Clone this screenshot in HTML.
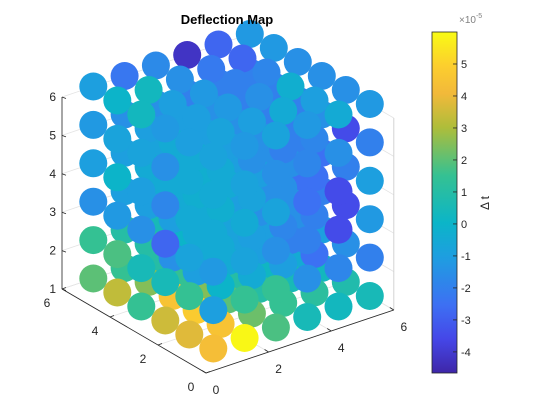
<!DOCTYPE html>
<html><head><meta charset="utf-8"><style>
html,body{margin:0;padding:0;background:#fff;width:560px;height:420px;overflow:hidden}
svg text{font-family:"Liberation Sans",sans-serif}
</style></head><body>
<svg id="chart" width="560" height="420" viewBox="0 0 560 420" xmlns="http://www.w3.org/2000/svg">
<rect width="560" height="420" fill="#fff"/>
<g id="grid"></g>
<g id="points"></g>
<g id="axes"></g>
<text x="227" y="24" font-size="13" font-weight="bold" text-anchor="middle" fill="#000">Deflection Map</text>
<defs><linearGradient id="parula" x1="0" y1="1" x2="0" y2="0">
<stop offset="0" stop-color="#3e26a8"/><stop offset="0.1" stop-color="#4547e8"/><stop offset="0.2" stop-color="#3d70f3"/><stop offset="0.34" stop-color="#1e9ee0"/><stop offset="0.44" stop-color="#0bb5c8"/><stop offset="0.58" stop-color="#35c192"/><stop offset="0.72" stop-color="#aebd3a"/><stop offset="0.82" stop-color="#f2b93a"/><stop offset="0.9" stop-color="#fcce2e"/><stop offset="1" stop-color="#f9fb14"/>
</linearGradient></defs>
<g id="colorbar"></g>
</svg>
<script>
const zLayers = [
 [[4.3,5.9,1.8,0.5,0.3,0.5],[3.8,4.5,2.2,1.5,1.2,0.8],[3.5,4.8,2.0,1.0,0.5,0.3],[1.5,4.5,2.5,1.0,0.2,-0.5],[3.3,2.5,1.5,0.5,-0.5,-1],[2.0,1.5,1.0,0,-1,-1.5]],
 [[-1,1.5,1.5,-1.5,-1.8,-2],[1.5,0,-0.5,-1,-2.5,-1.5],[0.5,-1,-0.5,-1,-2,-1],[0.5,-1.5,-0.5,-0.8,-1,-1.5],[1.8,1.0,0,-1,-1.5,-2],[1.5,1.0,0.5,-0.5,-1.5,-1.5]],
 [[-1.2,-0.8,-1.5,-2,-3.5,-1.2],[-0.8,-0.5,-1,-1.8,-2,-3.5],[-2.8,-0.5,-0.8,-1.5,-1.5,-2],[-1.5,-1,-0.5,-1,-1.5,-2.5],[-1.2,-1,-0.5,-1,-2,-2],[-1.5,-1,-0.5,-1,-1.5,-2]],
 [[-0.5,-0.5,-0.8,-2.5,-3.5,-1],[-0.5,-0.3,-0.8,-1.5,-2.5,-2],[-1.8,-0.3,-0.5,-1,-1.5,-2.5],[-1,-0.5,-0.3,-1,-1.5,-2],[0,-0.5,-0.5,-1,-1.5,-2],[-1,-1,-0.8,-1.2,-1.5,-2]],
 [[-0.5,-0.8,-1.5,-1.8,-1.5,-2],[-0.5,-0.5,-1.5,-2,-1.8,-3.5],[-1.5,-0.5,-1,-1.5,-2,-1.5],[-0.8,-0.5,-1,-1.5,-2,-2],[-0.8,-1,-1,-1.5,-2,-2],[-1.2,-1.5,-1.5,-2,-2,-2]],
 [[-0.8,-1.2,-0.8,-1.2,-0.5,-1.2],[-1.0,-0.8,-1.0,-0.5,-1.0,-1.5],[-1.2,-1.0,-1.2,-1.5,-0.3,-1.5],[0.3,-1.0,-1.2,-2.0,-1.8,-1.5],[0.0,0.3,-1.5,-2.2,-2.8,-1.2],[-1.0,-2.3,-1.7,-4.2,-2.8,-1.2]]
];
const xyTicks = [0,2,4,6];
const zTicks = [1,2,3,4,5,6];
const cbTicks = [-4,-3,-2,-1,0,1,2,3,4,5];
const cMin = -4.66, cMax = 6.0;

const NS="http://www.w3.org/2000/svg";
function px(x,y,z){return 206+31.3*x-24*y;}
function py(x,y,z){return 373-10.5*x-14*y-38.4*(z-1);}
const stops=[[0,[62,38,168]],[0.1,[69,71,232]],[0.2,[61,112,243]],[0.34,[30,158,224]],[0.44,[11,181,200]],[0.58,[53,193,146]],[0.72,[174,189,58]],[0.82,[242,185,58]],[0.9,[252,206,46]],[1,[249,251,20]]];
function color(v){let t=(v-cMin)/(cMax-cMin);t=Math.max(0,Math.min(1,t));
 for(let i=1;i<stops.length;i++){if(t<=stops[i][0]){const a=stops[i-1],b=stops[i];const f=(t-a[0])/(b[0]-a[0]);
 const c=a[1].map((q,k)=>Math.round(q+(b[1][k]-q)*f));return `rgb(${c})`;}}return 'rgb(249,251,20)';}
function mk(tag,attrs,parent){const e=document.createElementNS(NS,tag);for(const k in attrs)e.setAttribute(k,attrs[k]);parent.appendChild(e);return e;}

const grid=document.getElementById('grid');
const gl={stroke:'#e3e3e3','stroke-width':0.8,fill:'none'};
for(const z of zTicks){
 let l=mk('polyline',Object.assign({points:`${px(0,6,z)},${py(0,6,z)} ${px(6,6,z)},${py(6,6,z)} ${px(6,0,z)},${py(6,0,z)}`},gl),grid);
 
 
}
for(const t of xyTicks){
 let l=mk('polyline',Object.assign({points:`${px(t,0,1)},${py(t,0,1)} ${px(t,6,1)},${py(t,6,1)} ${px(t,6,6)},${py(t,6,6)}`},gl),grid);
 
 
 let m=mk('polyline',Object.assign({points:`${px(0,t,1)},${py(0,t,1)} ${px(6,t,1)},${py(6,t,1)} ${px(6,t,6)},${py(6,t,6)}`},gl),grid);
 
 
}
let bl=mk('line',{x1:px(6,0,1),y1:py(6,0,1),x2:px(6,0,6),y2:py(6,0,6),stroke:'#d0d0d0','stroke-width':0.8},grid);



const pts=[];
for(let zi=0;zi<6;zi++)for(let yi=0;yi<6;yi++)for(let xi=0;xi<6;xi++)pts.push({x:xi+1,y:yi+1,z:zi+1,v:zLayers[zi][yi][xi]});
pts.sort((a,b)=>(b.x*0.6+b.y*0.8-b.z*0.3)-(a.x*0.6+a.y*0.8-a.z*0.3));
const pg=document.getElementById('points');
for(const p of pts){
 const c=mk('circle',{cx:px(p.x,p.y,p.z),cy:py(p.x,p.y,p.z),r:14,fill:color(p.v)},pg);
 
 
}

const ax=document.getElementById('axes');
const al={stroke:'#262626','stroke-width':0.8};
let a1=mk('line',Object.assign({x1:px(0,0,1),y1:py(0,0,1),x2:px(6,0,1),y2:py(6,0,1)},al),ax);


let a2=mk('line',Object.assign({x1:px(0,0,1),y1:py(0,0,1),x2:px(0,6,1),y2:py(0,6,1)},al),ax);


let a3=mk('line',Object.assign({x1:px(0,6,1),y1:py(0,6,1),x2:px(0,6,6),y2:py(0,6,6)},al),ax);


for(const t of xyTicks){
 let x0=px(t,0,1),y0=py(t,0,1);
 let tk=mk('line',Object.assign({x1:x0,y1:y0,x2:x0-4,y2:y0-2.5},al),ax);
 
 
 let tx=mk('text',{x:x0+10,y:y0+21,'font-size':12,fill:'#262626','text-anchor':'middle'},ax);tx.textContent=t;
 
 
 let x1=px(0,t,1),y1=py(0,t,1);
 let tk2=mk('line',Object.assign({x1:x1,y1:y1,x2:x1+4,y2:y1-1.5},al),ax);
 
 
 let ty=mk('text',{x:x1-15,y:y1+18,'font-size':12,fill:'#262626','text-anchor':'middle'},ax);ty.textContent=t;
 
 
}
for(const t of zTicks){
 let x0=px(0,6,t),y0=py(0,6,t);
 let tk=mk('line',Object.assign({x1:x0,y1:y0,x2:x0+4,y2:y0+1.5},al),ax);
 
 
 let tz=mk('text',{x:x0-6,y:y0+4,'font-size':12,fill:'#262626','text-anchor':'end'},ax);tz.textContent=t;
 
 
}

const cb=document.getElementById('colorbar');
const cbTop=32,cbBot=373,cbX=432,cbW=25;
function cy(v){return cbBot-(v-cMin)/(cMax-cMin)*(cbBot-cbTop);}
let cr=mk('rect',{x:cbX,y:cbTop,width:cbW,height:cbBot-cbTop,fill:'url(#parula)',stroke:'#262626','stroke-width':0.8},cb);


for(const t of cbTicks){
 let tk=mk('line',{x1:cbX+cbW-4,y1:cy(t),x2:cbX+cbW,y2:cy(t),stroke:'#262626','stroke-width':0.8},cb);
 
 
 let tx=mk('text',{x:cbX+cbW+4,y:cy(t)+4,'font-size':11,fill:'#262626'},cb);tx.textContent=t;
 
 
}
let ex=mk('text',{x:459,y:23,'font-size':10,fill:'#808080'},cb);ex.innerHTML='×10<tspan dy="-5" font-size="7">-5</tspan>';


let lb=mk('text',{x:0,y:0,'font-size':12,fill:'#262626','text-anchor':'middle',transform:'translate(489,203) rotate(-90)'},cb);lb.textContent='Δ t';


</script>
</body></html>
